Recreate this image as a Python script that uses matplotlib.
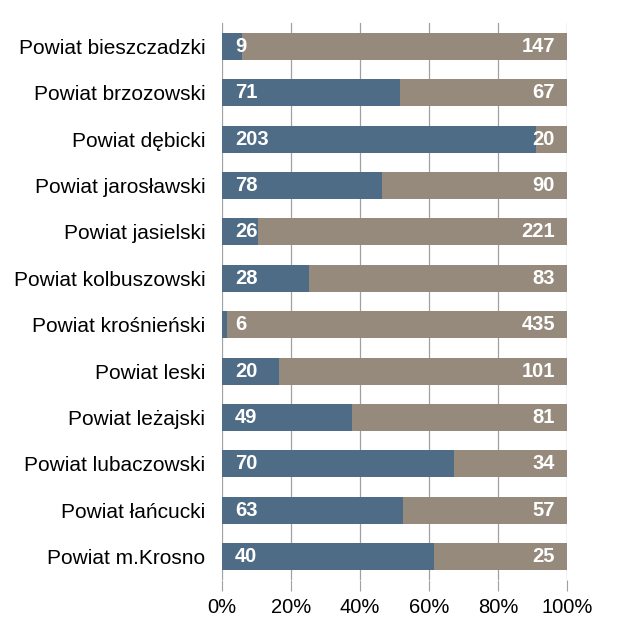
import matplotlib
matplotlib.use("Agg")
import matplotlib.pyplot as plt
import numpy as np

categories = ["Powiat bieszczadzki", "Powiat brzozowski", "Powiat dębicki",
              "Powiat jarosławski", "Powiat jasielski", "Powiat kolbuszowski",
              "Powiat krośnieński", "Powiat leski", "Powiat leżajski",
              "Powiat lubaczowski", "Powiat łańcucki", "Powiat m.Krosno"]
series_a = [9, 71, 203, 78, 26, 28, 6, 20, 49, 70, 63, 40]
series_b = [147, 67, 20, 90, 221, 83, 435, 101, 81, 34, 57, 25]
tick_labels = ["0%", "20%", "40%", "60%", "80%", "100%"]

plt.rcParams['font.family'] = ['Liberation Sans', 'DejaVu Sans']

c_a = "#4E6C86"
c_b = "#968A7D"

a = np.array(series_a, float)
b = np.array(series_b, float)
tot = a + b
pa = a / tot * 100
pb = b / tot * 100

fig = plt.figure(figsize=(6.17, 6.31), dpi=100)
ax = fig.add_axes([0.36, 0.081, 0.559, 0.8825])
y = np.arange(len(categories))
h = 0.58
ax.barh(y, pa, height=h, color=c_a, zorder=3)
ax.barh(y, pb, left=pa, height=h, color=c_b, zorder=3)

for i in range(len(categories)):
    ax.text(3.8, y[i], str(series_a[i]), color="white", fontsize=14.5, fontweight="bold",
            va="center", ha="left", zorder=4)
    ax.text(96.5, y[i], str(series_b[i]), color="white", fontsize=14.5, fontweight="bold",
            va="center", ha="right", zorder=4)

ax.set_xlim(0, 100)
ax.set_ylim(len(categories) - 0.5, -0.5)
ax.set_xticks([0, 20, 40, 60, 80, 100])
ax.set_xticklabels(tick_labels, fontsize=14.5)
ax.set_yticks(y)
ax.set_yticklabels(categories, fontsize=15)
ax.tick_params(axis="y", length=0, pad=12)
ax.tick_params(axis="x", length=8, color="#A0A0A0", pad=5)
ax.xaxis.grid(True, color="#A0A0A0", linewidth=0.9, zorder=0)
for s in ["top", "right", "bottom", "left"]:
    ax.spines[s].set_visible(False)

fig.savefig("out.png", dpi=100, facecolor="white")
